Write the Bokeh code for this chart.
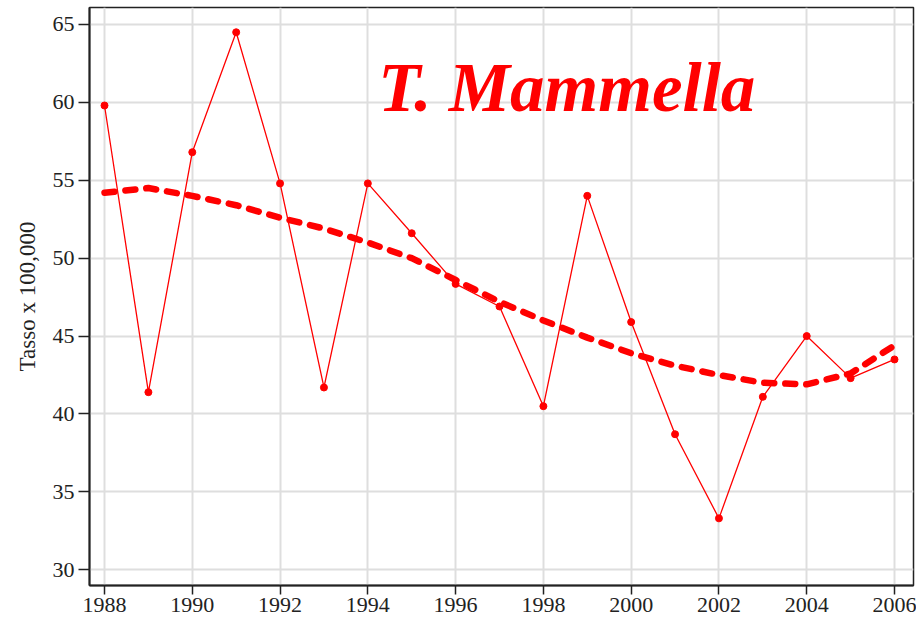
from bokeh.plotting import figure
from bokeh.models import Label, FixedTicker, Range1d
from bokeh.embed import file_html
from bokeh.resources import INLINE

years = list(range(1988, 2007))
rates = [59.8, 41.4, 56.8, 64.5, 54.8, 41.7, 54.8, 51.6, 48.35, 46.9, 40.5,
         54.0, 45.9, 38.7, 33.3, 41.1, 45.0, 42.3, 43.5]
trend = [54.2, 54.5, 54.0, 53.4, 52.6, 51.9, 51.0, 50.0, 48.6, 47.2, 46.0,
         44.9, 43.9, 43.1, 42.5, 42.0, 41.9, 42.6, 44.4]
x_ticks = list(range(1988, 2007, 2))
y_ticks = list(range(30, 66, 5))
title_text = "T. Mammella"
y_label = "Tasso x 100,000"

p = figure(width=916, height=621, output_backend="svg", toolbar_location=None,
           x_range=Range1d(1987.658, 2006.433), y_range=Range1d(28.99, 66.09),
           min_border_left=89, min_border_right=3, min_border_top=7, min_border_bottom=36)

p.background_fill_color = "white"
p.border_fill_color = "white"
p.outline_line_color = "#222222"
p.outline_line_width = 1.5

FONT = "Liberation Serif"
for ax in (p.xaxis, p.yaxis):
    ax.axis_line_color = "#222222"
    ax.axis_line_width = 2
    ax.major_tick_line_color = "#222222"
    ax.major_tick_line_width = 1.5
    ax.major_tick_in = 0
    ax.minor_tick_line_color = None
    ax.major_label_text_font = FONT
    ax.major_label_text_font_size = "22px"
    ax.major_label_text_color = "#222222"

p.xaxis.major_tick_out = 9
p.xaxis.major_label_standoff = 3
p.yaxis.major_tick_out = 11
p.yaxis.major_label_standoff = 4

p.xaxis.ticker = FixedTicker(ticks=x_ticks)
p.yaxis.ticker = FixedTicker(ticks=y_ticks)
p.yaxis.axis_label = y_label
p.yaxis.axis_label_text_font = FONT
p.yaxis.axis_label_text_font_style = "normal"
p.yaxis.axis_label_text_font_size = "23px"
p.yaxis.axis_label_text_color = "#222222"
p.yaxis.axis_label_standoff = 10

for g in (p.xgrid, p.ygrid):
    g.grid_line_color = "#dedede"
    g.grid_line_width = 2
p.xgrid.ticker = FixedTicker(ticks=x_ticks)
p.ygrid.ticker = FixedTicker(ticks=y_ticks)

p.line(years, rates, line_color="red", line_width=1.3)
p.scatter(years, rates, size=7, fill_color="red", line_color="red")
p.line(years, trend, line_color="red", line_width=6.5, line_dash="10 11", line_cap="round")

p.add_layout(Label(x=1994.24, y=63.33, text=title_text, text_font=FONT,
                   text_font_style="bold italic", text_font_size="69px",
                   text_color="red", text_baseline="top"))

open("out.html", "w").write(file_html(p, INLINE))
